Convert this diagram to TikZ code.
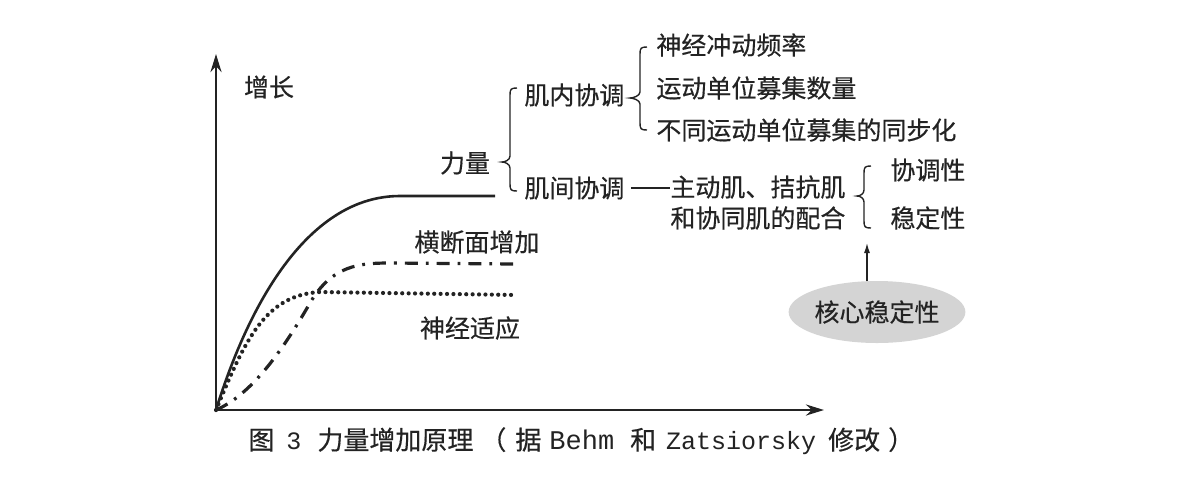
\documentclass[tikz,border=0pt]{standalone}
\usepackage{fontspec}
\setmainfont{Noto Sans CJK SC}[FakeBold=0.4]
\newfontfamily\capmono{Liberation Mono}
\usetikzlibrary{arrows.meta,positioning,shapes.geometric,calc}
\definecolor{ink}{RGB}{35,35,35}
\definecolor{corefill}{RGB}{212,212,212}

% left-pointing curly brace: spine x, top y, tip y, bottom y, depth
\newcommand{\leftcurly}[5]{%
  \draw[curly] (#1+7,#2) .. controls (#1+1,#2) and (#1,#2+1) .. (#1,#2+7)
    -- (#1,#3-6) .. controls (#1,#3-2) and (#1-#5+3,#3) .. (#1-#5,#3)
    .. controls (#1-#5+3,#3) and (#1,#3+2) .. (#1,#3+6)
    -- (#1,#4-7) .. controls (#1,#4-1) and (#1+1,#4) .. (#1+7,#4);}

\begin{document}
\begin{tikzpicture}[
  x=0.5pt, y=-0.5pt,
  font=\fontsize{12.5}{15}\selectfont,
  lbl/.style={inner sep=0pt, text=ink},
  axis/.style={line width=1.4pt, draw=ink, -{Stealth[length=9pt, width=5.5pt]}},
  curve/.style={line width=1.3pt, draw=ink},
  dashdot/.style={line width=1.6pt, draw=ink,
    dash pattern=on 6.5pt off 4pt on 1.4pt off 4pt},
  dotline/.style={line width=2.1pt, draw=ink, line cap=round,
    dash pattern=on 0pt off 3.2pt},
  curly/.style={line width=0.7pt, draw=ink},
  core/.style={ellipse, fill=corefill, inner sep=0pt,
    minimum width=68pt, minimum height=31pt, text=ink},
  pointer/.style={-{Latex[length=5pt, width=3pt]}, line width=0.6pt, draw=ink}
]
\useasboundingbox (0,0) rectangle (1200,484);

% axes
\coordinate (origin) at (216,410);
\draw[axis] (216,412) -- (216,54);
\draw[axis] (214,410) -- (824,410);

% curves
\draw[curve] (origin) .. controls (250,300) and (310,196) .. (400,196) -- (495,196);
\draw[dashdot] (origin) .. controls (250,395) and (280,355) .. (310,303)
  .. controls (332,265) and (360,263) .. (390,263) -- (515,264);
\draw[dotline] (origin) .. controls (245,340) and (265,295) .. (320,292) -- (517,295);

% labels
\node[lbl] (growth) at (269,87) {增长};
\node[lbl] (force) at (465,163) {力量};
\node[lbl, anchor=west] (intra) at (524,95) {肌内协调};
\node[lbl, anchor=west] (inter) at (524,188) {肌间协调};
\node[lbl, anchor=west] (rate) at (656,45) {神经冲动频率};
\node[lbl, anchor=west] (recruit) at (656,88) {运动单位募集数量};
\node[lbl, anchor=west] (sync) at (656,130) {不同运动单位募集的同步化};
\node[lbl, anchor=west] (agon) at (670,187) {主动肌、拮抗肌};
\node[lbl, anchor=west] (syner) at (670,218) {和协同肌的配合};
\node[lbl, anchor=west] (coord) at (890,170) {协调性};
\node[lbl, anchor=west] (stab) at (890,218) {稳定性};
\node[lbl] (csa) at (477,242) {横断面增加};
\node[lbl] (neural) at (470,328) {神经适应};
\node[core] (corestab) at (877,312) {核心稳定性};

% braces
\leftcurly{510}{88}{162}{191}{8}
\leftcurly{640}{47}{98}{130}{10}
\leftcurly{864}{166}{196}{228}{7}

% connectors
\draw[line width=0.8pt, draw=ink] ([xshift=3pt]inter.east) -- (inter.east -| agon.west);
\coordinate (target) at (867,243);
\draw[pointer] (corestab.north -| target) -- (target);

% caption
\node[lbl, anchor=west, font=\fontsize{13}{15}\selectfont] (caption) at (248,441)
  {图\hspace{6pt}{\capmono\fontsize{12.5}{15}\selectfont 3}\hspace{8pt}力量增加原理\hspace{3.5pt}（\hspace{4.5pt}据\hspace{4pt}{\capmono\fontsize{13.5}{15}\selectfont Behm}\hspace{8pt}和\hspace{5pt}{\capmono\fontsize{12.5}{15}\selectfont Zatsiorsky}\hspace{6pt}修改\hspace{4pt}）};
\end{tikzpicture}
\end{document}
